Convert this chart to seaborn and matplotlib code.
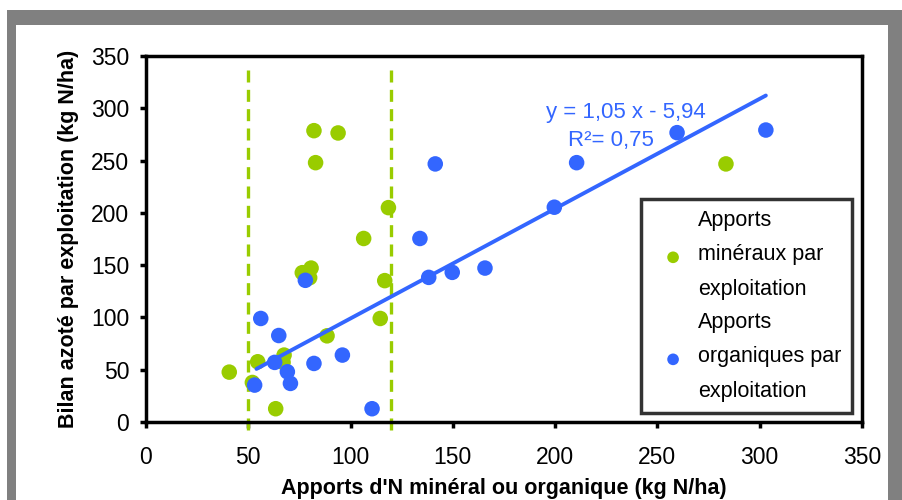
import matplotlib
matplotlib.use('Agg')
import matplotlib.pyplot as plt
import matplotlib.patches as mpatches
import seaborn as sns
import numpy as np
import pandas as pd

### data
mineral_x = [40.7, 82.1, 93.9, 82.9, 118.5, 106.4, 76.4, 80.7, 80.0, 116.7,
             114.5, 88.5, 67.5, 54.6, 67.0, 52.0, 63.4, 283.5]
mineral_y = [47.7, 278.6, 276.4, 248.0, 205.0, 175.5, 142.8, 147.2, 138.0, 135.2,
             99.0, 82.4, 64.0, 57.6, 57.0, 37.8, 12.7, 246.8]

organic_x = [141.4, 133.9, 138.2, 149.7, 56.1, 64.9, 62.9, 82.1, 96.0, 69.1,
             70.6, 53.1, 110.5, 77.9, 165.7, 199.6, 210.5, 259.6, 303.0]
organic_y = [246.8, 175.5, 138.3, 143.1, 99.0, 82.7, 57.0, 56.0, 64.0, 48.0,
             36.9, 35.3, 12.7, 135.5, 147.2, 205.4, 248.0, 276.7, 279.2]

# trend line of the organic series, as printed on the chart
slope = 1.05
intercept = -5.94
trend_range = [54.0, 303.0]

# reference inputs (dashed verticals)
limits = [50, 120]

series_names = ['Apports\nminéraux par\nexploitation',
                'Apports\norganiques par\nexploitation']
ticks = [0, 50, 100, 150, 200, 250, 300, 350]

GREEN = '#99CC00'
BLUE = '#3366FF'

### style
sns.set_theme(style='white')
plt.rcParams['font.family'] = ['Liberation Sans Narrow', 'Liberation Sans', 'DejaVu Sans']

df = pd.DataFrame({
    'x': mineral_x + organic_x,
    'y': mineral_y + organic_y,
    'type': [series_names[0]] * len(mineral_x) + [series_names[1]] * len(organic_x),
})

fig = plt.figure(figsize=(9.03, 5), dpi=100)
fig.patch.set_facecolor('white')

# gray frame around the chart
fig.patches.append(mpatches.Rectangle((7 / 903, 0), 1 - 7 / 903, 0.98,
                                      transform=fig.transFigure, facecolor='#808080',
                                      edgecolor='none', zorder=-2))
fig.patches.append(mpatches.Rectangle((16 / 903, 0), (888 - 16) / 903, 0.95,
                                      transform=fig.transFigure, facecolor='white',
                                      edgecolor='none', zorder=-1))

ax = fig.add_axes([146 / 903, 78 / 500, (862 - 146) / 903, (422 - 56) / 500])
ax.set_facecolor('white')

# dashed verticals, running past the frame
for lim in limits:
    ax.plot([lim, lim], [-8, 343], color=GREEN, lw=2.4, dashes=(3.6, 2.2),
            clip_on=False, zorder=1)

sns.scatterplot(data=df[df['type'] == series_names[0]], x='x', y='y', color=GREEN,
                s=125, edgecolor='none', ax=ax, label=series_names[0], zorder=2)

tx = np.array(trend_range)
line_df = pd.DataFrame({'x': tx, 'y': slope * tx + intercept})
sns.lineplot(data=line_df, x='x', y='y', color=BLUE, lw=2.8, ax=ax, zorder=3)

sns.scatterplot(data=df[df['type'] == series_names[1]], x='x', y='y', color=BLUE,
                s=125, edgecolor='none', ax=ax, label=series_names[1], zorder=4)

# equation of the trend line
ax.text(234.6, 295.7, 'y = 1,05 x - 5,94', color=BLUE, fontsize=16,
        ha='center', va='center')
ax.text(227.3, 269, 'R²= 0,75', color=BLUE, fontsize=16, ha='center', va='center')

ax.set_xlim(0, 350)
ax.set_ylim(0, 350)
ax.set_xticks(ticks)
ax.set_yticks(ticks)
ax.tick_params(axis='both', labelsize=16.5, direction='out', length=4, width=2.5,
               color='black', labelcolor='black', left=True, bottom=True)
ax.tick_params(axis='x', pad=13)
ax.tick_params(axis='y', pad=8)

for side in ['left', 'bottom', 'top', 'right']:
    ax.spines[side].set_color('black')
    ax.spines[side].set_linewidth(2.5)

ax.set_xlabel("Apports d'N minéral ou organique (kg N/ha)", fontsize=15.5,
              fontweight='bold', color='black', labelpad=7)
ax.set_ylabel('Bilan azoté par exploitation (kg N/ha)', fontsize=15.5,
              fontweight='bold', color='black', labelpad=9)

leg = ax.legend(loc='lower right', bbox_to_anchor=(0.986, 0.025), borderaxespad=0,
                fontsize=15.5, frameon=True, fancybox=False, handletextpad=0.15,
                borderpad=0.5, labelspacing=0.55, handlelength=2.0, markerscale=0.75)
leg.get_frame().set_edgecolor('black')
leg.get_frame().set_linewidth(2.5)
for t in leg.get_texts():
    t.set_color('black')
    t.set_linespacing(1.85)

fig.savefig('out.png', dpi=100, facecolor=fig.get_facecolor())
